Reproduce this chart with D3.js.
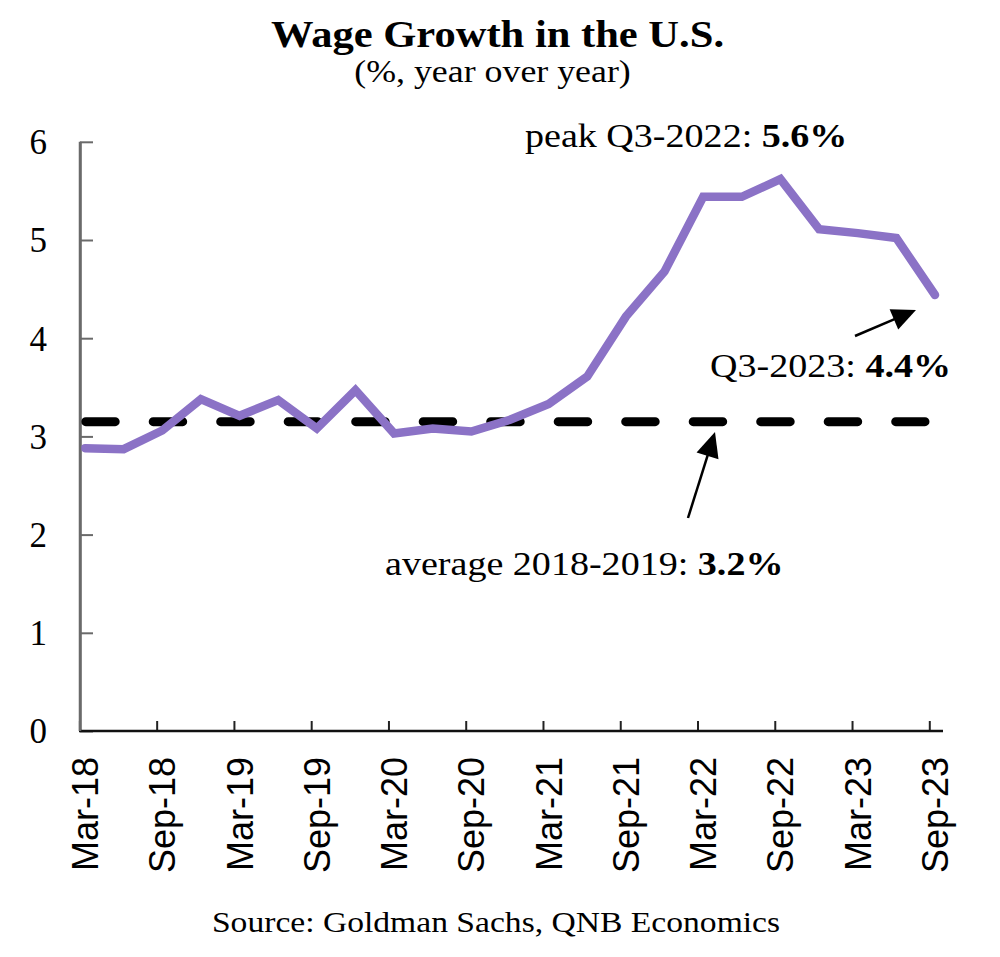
<!DOCTYPE html>
<html>
<head>
<meta charset="utf-8">
<script src="https://cdn.jsdelivr.net/npm/d3@7"></script>
<style>
  html, body { margin: 0; padding: 0; background: #fff; }
  svg { display: block; }
</style>
</head>
<body>
<svg id="chart" width="1000" height="957"></svg>
<script>
// ---- data ----
const quarters = ["Mar-18","Jun-18","Sep-18","Dec-18","Mar-19","Jun-19","Sep-19","Dec-19",
  "Mar-20","Jun-20","Sep-20","Dec-20","Mar-21","Jun-21","Sep-21","Dec-21",
  "Mar-22","Jun-22","Sep-22","Dec-22","Mar-23","Jun-23","Sep-23"];
const wageGrowth = [2.88, 2.87, 3.06, 3.38, 3.21, 3.37, 3.08, 3.47, 3.03, 3.08, 3.05, 3.17,
  3.33, 3.61, 4.22, 4.68, 5.44, 5.44, 5.62, 5.11, 5.07, 5.02, 4.44];
const average2018_2019 = 3.15;
const yTicks = [0, 1, 2, 3, 4, 5, 6];
const xTickIdx = [0, 2, 4, 6, 8, 10, 12, 14, 16, 18, 20, 22];

const svg = d3.select("#chart");
const serif = "'Liberation Serif', 'Times New Roman', serif";
const sans = "'Liberation Sans', Arial, sans-serif";
const SX = 1.12; // horizontal stretch of the source picture

const n = quarters.length;
const x = d3.scaleLinear().domain([0, n - 1]).range([85, 935]);
const xTick = d3.scaleLinear().domain([0, n - 1]).range([79.4, 929.3]);
const y = d3.scaleLinear().domain([0, 6]).range([731, 141.8]);

// ---- titles ----
function stretchedText(cx, cy, anchor, size, weight, parts) {
  const g = svg.append("g").attr("transform", `translate(${cx},${cy}) scale(${SX},1)`);
  const t = g.append("text").attr("text-anchor", anchor)
    .attr("font-family", serif).attr("font-size", size).attr("font-weight", weight)
    .attr("fill", "#000");
  parts.forEach(p => t.append("tspan").attr("font-weight", p.b ? "bold" : weight).text(p.t));
  return t;
}
stretchedText(497.5, 47, "middle", 38, "bold", [{t: "Wage Growth in the U.S.", b: true}]);
stretchedText(492.5, 82, "middle", 32, "normal", [{t: "(%, year over year)"}]);
stretchedText(496, 932, "middle", 30, "normal", [{t: "Source: Goldman Sachs, QNB Economics"}]);

// ---- axes ----
const yAxis = d3.axisLeft(y).tickValues(yTicks).tickSize(-13).tickSizeOuter(0).tickPadding(33)
  .tickFormat(d3.format("d"));
const yg = svg.append("g").attr("transform", "translate(80,0)").call(yAxis);
yg.select(".domain").attr("stroke", "#6a6a6a").attr("stroke-width", 2.5);
yg.selectAll(".tick line").attr("stroke", "#6a6a6a").attr("stroke-width", 2);
yg.selectAll(".tick text").attr("font-family", serif).attr("font-size", 35).attr("fill", "#000")
  .attr("dy", "0.34em");

const xAxis = d3.axisBottom(xTick).tickValues(xTickIdx).tickSize(-10).tickSizeOuter(0)
  .tickFormat("");
const xg = svg.append("g").attr("transform", `translate(0,${y(0)})`).call(xAxis);
xg.select(".domain").remove();
xg.selectAll(".tick line").attr("stroke", "#222").attr("stroke-width", 2);
xg.append("line").attr("x1", 79).attr("x2", 943).attr("y1", 0).attr("y2", 0)
  .attr("stroke", "#111").attr("stroke-width", 2.5);

// x labels (rotated)
svg.append("g").selectAll("text").data(xTickIdx).join("text")
  .attr("transform", d => `translate(${x(d)},757) rotate(-90)`)
  .attr("text-anchor", "end")
  .attr("dy", "0.36em")
  .attr("font-family", sans).attr("font-size", 36).attr("fill", "#000")
  .text(d => quarters[d]);

// ---- average dashed line ----
svg.append("line")
  .attr("x1", x(0) + 0.7).attr("x2", x(n - 1) - 10)
  .attr("y1", y(average2018_2019)).attr("y2", y(average2018_2019))
  .attr("stroke", "#000").attr("stroke-width", 9)
  .attr("stroke-dasharray", "29.5,38").attr("stroke-linecap", "round");

// ---- wage line ----
const line = d3.line().x((d, i) => x(i)).y(d => y(d));
svg.append("path").datum(wageGrowth)
  .attr("d", line)
  .attr("fill", "none").attr("stroke", "#8b72c6").attr("stroke-width", 8.5)
  .attr("stroke-linejoin", "miter").attr("stroke-linecap", "round");

// redraw y axis line on top of line start
svg.append("line").attr("x1", 80).attr("x2", 80).attr("y1", y(6)).attr("y2", y(0))
  .attr("stroke", "#6a6a6a").attr("stroke-width", 2.5);

// ---- annotations ----
function arrow(x1, y1, x2, y2, headLen, headHalf) {
  const dx = x2 - x1, dy = y2 - y1, L = Math.hypot(dx, dy);
  const ux = dx / L, uy = dy / L;
  const bx = x2 - ux * headLen, by = y2 - uy * headLen;
  svg.append("line").attr("x1", x1).attr("y1", y1).attr("x2", bx + ux * 2).attr("y2", by + uy * 2)
    .attr("stroke", "#000").attr("stroke-width", 2.5);
  svg.append("path")
    .attr("d", `M${x2},${y2}L${bx - uy * headHalf},${by + ux * headHalf}L${bx + uy * headHalf},${by - ux * headHalf}Z`)
    .attr("fill", "#000");
}
arrow(855, 336, 916, 310, 24, 11);
arrow(688, 518, 715, 432, 25, 11.5);

stretchedText(525, 147, "start", 34, "normal", [{t: "peak Q3-2022: "}, {t: "5.6%", b: true}]);
stretchedText(710, 377, "start", 34, "normal", [{t: "Q3-2023: "}, {t: "4.4%", b: true}]);
stretchedText(385, 575, "start", 34, "normal", [{t: "average 2018-2019: "}, {t: "3.2%", b: true}]);
</script>
</body>
</html>
